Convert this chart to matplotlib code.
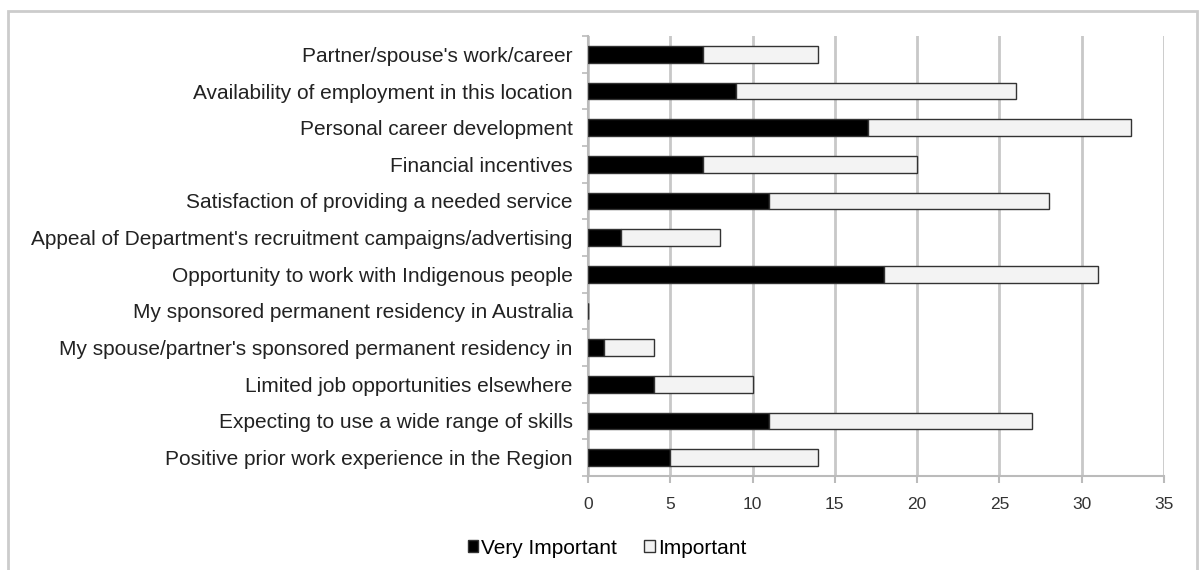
import matplotlib
matplotlib.use("Agg")
import matplotlib.pyplot as plt
from matplotlib.patches import Patch, Rectangle
import numpy as np

plt.rcParams['font.family'] = ['Liberation Sans', 'DejaVu Sans']

categories = [
    "Partner/spouse's work/career",
    "Availability of employment in this location",
    "Personal career development",
    "Financial incentives",
    "Satisfaction of providing a needed service",
    "Appeal of Department's recruitment campaigns/advertising",
    "Opportunity to work with Indigenous people",
    "My sponsored permanent residency in Australia",
    "My spouse/partner's sponsored permanent residency in",
    "Limited job opportunities elsewhere",
    "Expecting to use a wide range of skills",
    "Positive prior work experience in the Region",
]
very_important = [7, 9, 17, 7, 11, 2, 18, 0, 1, 4, 11, 5]
important = [7, 17, 16, 13, 17, 6, 13, 0, 3, 6, 16, 9]
x_ticks = [0, 5, 10, 15, 20, 25, 30, 35]

W, H = 1199, 570
fig = plt.figure(figsize=(W / 100, H / 100), dpi=100)
ax = fig.add_axes([588 / W, 1 - 476 / H, (1164 - 588) / W, (476 - 36) / H])

y = np.arange(len(categories))
bar_h = 0.45
edge = '#333333'

ax.barh(y, very_important, height=bar_h, color='black', edgecolor=edge,
        linewidth=1.0, zorder=3, label='Very Important')
ax.barh(y, important, left=very_important, height=bar_h, color='#f3f3f3',
        edgecolor=edge, linewidth=1.0, zorder=3, label='Important')

ax.set_xlim(0, 35)
ax.set_ylim(len(categories) - 0.5, -0.5)
ax.set_xticks(x_ticks)
ax.set_xticklabels([str(t) for t in x_ticks], fontsize=12.5, color='#333333')
ax.set_yticks(y)
ax.set_yticklabels(categories, fontsize=15, color='#222222')
ax.tick_params(axis='y', length=0, pad=11)
ax.set_yticks(np.arange(-0.5, len(categories), 1), minor=True)
ax.tick_params(axis='y', which='minor', length=4, color='#bbbbbb', width=1.2)
ax.tick_params(axis='x', length=5, color='#bbbbbb', width=1.5, pad=10)

ax.grid(axis='x', color='#c8c8c8', linewidth=2.0, zorder=0)
for s in ['top', 'right']:
    ax.spines[s].set_visible(False)
for s in ['left', 'bottom']:
    ax.spines[s].set_color('#bbbbbb')
    ax.spines[s].set_linewidth(1.5)

handles = [Patch(facecolor='black', edgecolor=edge, label='Very Important'),
           Patch(facecolor='#f3f3f3', edgecolor=edge, label='Important')]
fig.legend(handles=handles, loc='center', bbox_to_anchor=(607 / W, 1 - 548 / H),
           ncol=2, frameon=False, fontsize=15, handlelength=0.5,
           handleheight=0.5, handletextpad=0.15, columnspacing=1.3)

fig.patches.append(Rectangle((8 / W, -0.01), (1197 - 8) / W, 1 - 11 / H + 0.01,
                             transform=fig.transFigure, fill=False,
                             edgecolor='#cccccc', linewidth=2.0))

fig.savefig('out.png', dpi=100)
